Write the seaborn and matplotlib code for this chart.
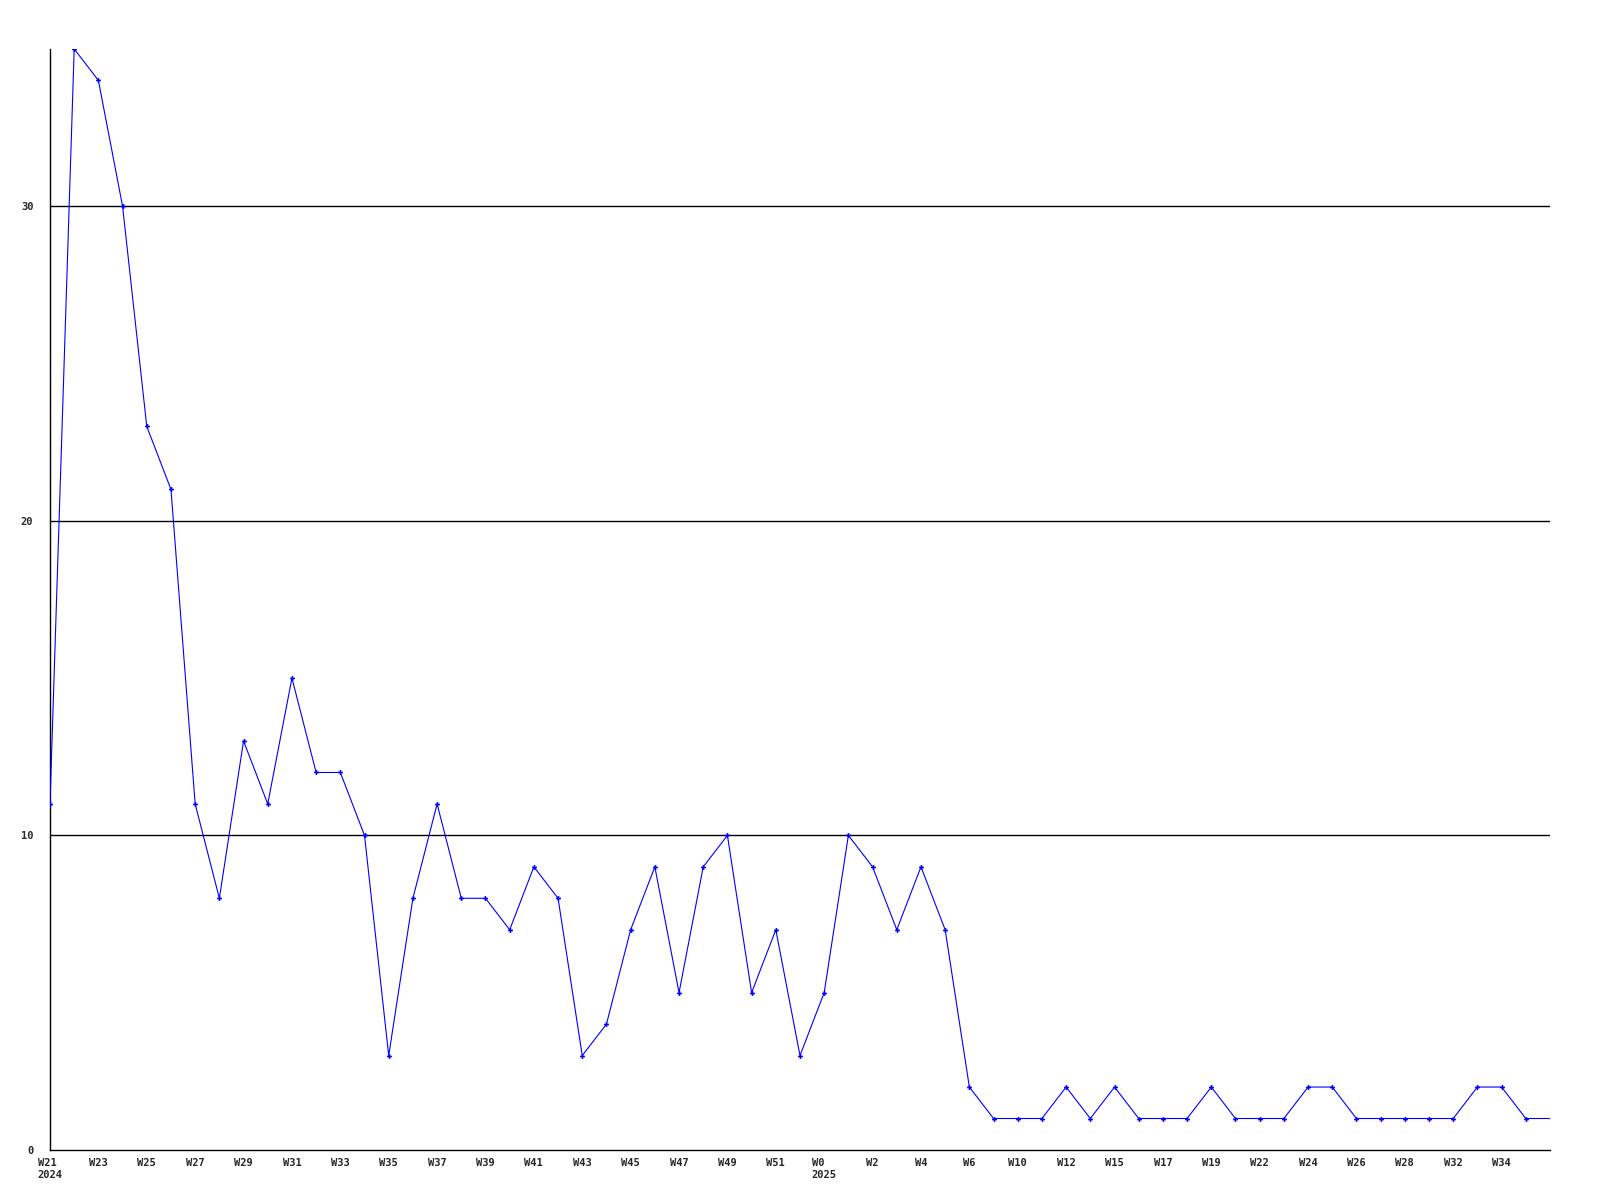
import numpy as np
import pandas as pd
import matplotlib
matplotlib.use("Agg")
import matplotlib.pyplot as plt
import seaborn as sns

# weekly counts, one point per reported week (W21 2024 .. W36 2025)
counts = [11, 35, 34, 30, 23, 21, 11, 8, 13, 11, 15, 12, 12, 10, 3, 8,
          11, 8, 8, 7, 9, 8, 3, 4, 7, 9, 5, 9, 10, 5, 7, 3,
          5, 10, 9, 7, 9, 7, 2, 1, 1, 1, 2, 1, 2, 1, 1, 1,
          2, 1, 1, 1, 2, 2, 1, 1, 1, 1, 1, 2, 2, 1, 1]

# labels shown under every second point
tick_labels = ["W21\n2024", "W23", "W25", "W27", "W29", "W31", "W33", "W35",
               "W37", "W39", "W41", "W43", "W45", "W47", "W49", "W51",
               "W0\n2025", "W2", "W4", "W6", "W10", "W12", "W15", "W17",
               "W19", "W22", "W24", "W26", "W28", "W32", "W34"]
y_ticks = [0, 10, 20, 30]

df = pd.DataFrame({"idx": np.arange(len(counts)), "count": counts})

sns.set_style("white")
plt.rcParams["font.family"] = ["DejaVu Sans Mono", "DejaVu Sans"]

fig = plt.figure(figsize=(16, 12), dpi=100)
ax = fig.add_axes([0.03125, 0.0417, 0.9375, 0.9175])

for y in y_ticks[1:]:
    ax.axhline(y, color="black", lw=1, zorder=1)

# last point sits on the right edge and has no marker in the original
sns.lineplot(data=df, x="idx", y="count", ax=ax, color="#0000ff", lw=0.8,
             marker="P", markersize=3.5, markeredgewidth=0, zorder=3,
             markevery=list(range(len(counts) - 1)))

ax.set_xlim(0, len(counts) - 1)
ax.set_ylim(0, 35)
ax.set_xticks(np.arange(0, 2 * len(tick_labels), 2))
ax.set_xticklabels(tick_labels, fontsize=7.5, fontweight="bold",
                   va="top", multialignment="left")
ax.set_yticks(y_ticks)
ax.set_yticklabels([str(v) for v in y_ticks], fontsize=7.5, fontweight="bold")
ax.tick_params(axis="both", length=0)
ax.tick_params(axis="y", pad=12)
ax.tick_params(axis="x", pad=6)
ax.set_xlabel("")
ax.set_ylabel("")

for side in ["top", "right"]:
    ax.spines[side].set_visible(False)
for side in ["left", "bottom"]:
    ax.spines[side].set_color("black")
    ax.spines[side].set_linewidth(1)

fig.savefig("out.png", dpi=100, facecolor="white")
